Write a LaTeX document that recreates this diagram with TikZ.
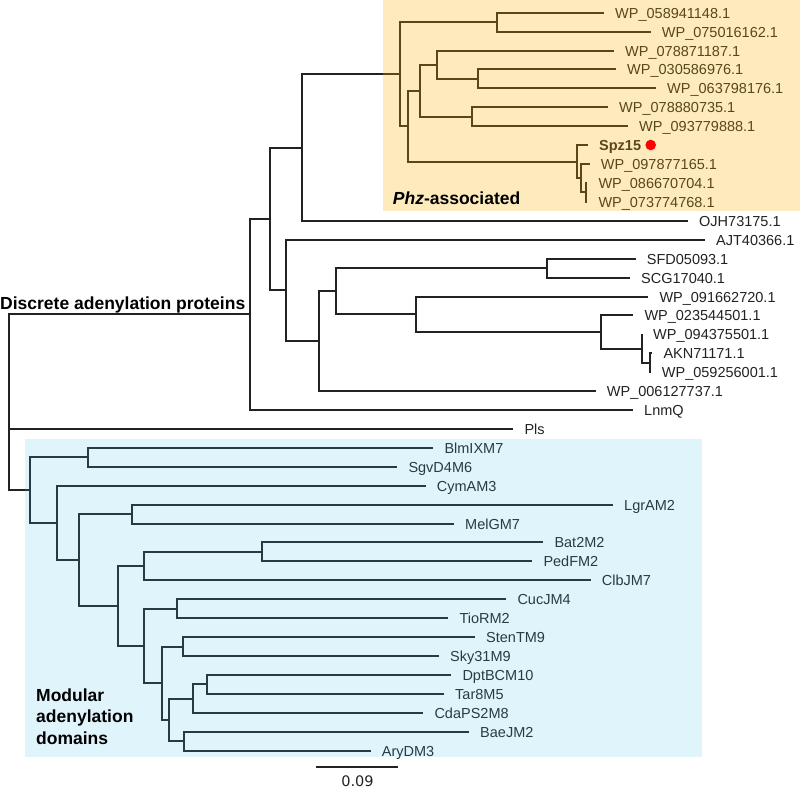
\documentclass[tikz,border=0pt]{standalone}
\usepackage{fontspec}
\setmainfont{Liberation Sans}
\newfontfamily\dejavu{DejaVu Sans}
\definecolor{ink}{RGB}{34,34,34}
\definecolor{ylwtint}{RGB}{247,178,0}
\definecolor{bluetint}{RGB}{67,188,236}
\newcommand\lf[4]{\coordinate (#1) at ({#2-11},#3);
  \node[lab] (#1-t) at ([xshift=11pt,yshift=-5.2pt]#1) {#4};}
\begin{document}
\begin{tikzpicture}[x=1pt,y=-1pt,
  br/.style={draw=ink,line width=1.5pt},
  lab/.style={anchor=base west,inner sep=0pt,text=ink,font=\fontsize{14.5}{17}\selectfont},
  grp/.style={anchor=base west,inner sep=0pt,text=black,font=\fontsize{17.5}{21}\selectfont\bfseries}]
\useasboundingbox (0,0) rectangle (800,790);
% leaves
\lf{L0}{615}{13}{WP\_058941148.1}
\lf{L1}{661.7}{32}{WP\_075016162.1}
\lf{L2}{625}{51}{WP\_078871187.1}
\lf{L3}{627}{69}{WP\_030586976.1}
\lf{L4}{667}{88}{WP\_063798176.1}
\lf{L5}{619}{107}{WP\_078880735.1}
\lf{L6}{639}{126}{WP\_093779888.1}
\lf{L7}{599}{145}{\textbf{Spz15}}
\lf{L8}{600.7}{164}{WP\_097877165.1}
\lf{L9}{598.3}{183}{WP\_086670704.1}
\lf{L10}{598.3}{202}{WP\_073774768.1}
\lf{L11}{699}{221}{OJH73175.1}
\lf{L12}{716}{240}{AJT40366.1}
\lf{L13}{646.7}{259}{SFD05093.1}
\lf{L14}{641}{278}{SCG17040.1}
\lf{L15}{659.3}{297}{WP\_091662720.1}
\lf{L16}{644.3}{315}{WP\_023544501.1}
\lf{L17}{653}{334}{WP\_094375501.1}
\lf{L18}{663.3}{353}{AKN71171.1}
\lf{L19}{661.7}{372}{WP\_059256001.1}
\lf{L20}{606.7}{391}{WP\_006127737.1}
\lf{L21}{644}{410}{LnmQ}
\lf{L22}{524.3}{429}{Pls}
\lf{L23}{444.3}{448}{BlmIXM7}
\lf{L24}{408.3}{467}{SgvD4M6}
\lf{L25}{436.7}{486}{CymAM3}
\lf{L26}{624}{505}{LgrAM2}
\lf{L27}{465}{524}{MelGM7}
\lf{L28}{554.3}{542}{Bat2M2}
\lf{L29}{543.3}{561}{PedFM2}
\lf{L30}{601.7}{580}{ClbJM7}
\lf{L31}{517.3}{599}{CucJM4}
\lf{L32}{459.3}{618}{TioRM2}
\lf{L33}{486}{637}{StenTM9}
\lf{L34}{450}{656}{Sky31M9}
\lf{L35}{462.3}{675}{DptBCM10}
\lf{L36}{455}{694}{Tar8M5}
\lf{L37}{434.3}{713}{CdaPS2M8}
\lf{L38}{480}{732}{BaeJM2}
\lf{L39}{381.7}{751}{AryDM3}
% internal nodes
\coordinate (r) at (9,429);
\coordinate (nD) at (250,314);
\coordinate (n270) at (270,219);
\coordinate (n302) at (302,148);
\coordinate (n400) at (400,74);
\coordinate (nA) at (497,22);
\coordinate (n408) at (408,126);
\coordinate (n420) at (420,91);
\coordinate (n437) at (437,65);
\coordinate (n478) at (478,79);
\coordinate (n472) at (472,117);
\coordinate (nS) at (577,162);
\coordinate (nT) at (581,178);
\coordinate (nU) at (586,192);
\coordinate (n286) at (286,290);
\coordinate (n319) at (319,341);
\coordinate (n336) at (336,291);
\coordinate (n547) at (547,268);
\coordinate (n416) at (416,314);
\coordinate (n601) at (601,332);
\coordinate (n642) at (642,349);
\coordinate (n650) at (650,363);
\coordinate (nM) at (30,490);
\coordinate (n88) at (88,457);
\coordinate (n57) at (57,523);
\coordinate (n79) at (79,560);
\coordinate (n132) at (132,514);
\coordinate (n118) at (118,606);
\coordinate (n144a) at (144,566);
\coordinate (n262) at (262,552);
\coordinate (n144b) at (144,646);
\coordinate (n177) at (177,609);
\coordinate (n162) at (162,683);
\coordinate (n183) at (183,647);
\coordinate (n169) at (169,720);
\coordinate (n193) at (193,699);
\coordinate (n207) at (207,684);
\coordinate (n184) at (184,741);
% branches
\draw[br] (r) |- (nD); \draw[br] (r) -- (L22); \draw[br] (r) |- (nM);
\draw[br] (nD) |- (n270); \draw[br] (nD) |- (L21);
\draw[br] (n270) |- (n302); \draw[br] (n270) |- (n286);
\draw[br] (n302) |- (n400); \draw[br] (n302) |- (L11);
\draw[br] (n400) |- (nA); \draw[br] (n400) |- (n408);
\draw[br] (nA) |- (L0); \draw[br] (nA) |- (L1);
\draw[br] (n408) |- (n420); \draw[br] (n408) |- (nS);
\draw[br] (n420) |- (n437); \draw[br] (n420) |- (n472);
\draw[br] (n437) |- (L2); \draw[br] (n437) |- (n478);
\draw[br] (n478) |- (L3); \draw[br] (n478) |- (L4);
\draw[br] (n472) |- (L5); \draw[br] (n472) |- (L6);
\draw[br] (nS) |- (L7); \draw[br] (nS) |- (nT);
\draw[br] (nT) |- (L8); \draw[br] (nT) |- (nU);
\draw[br] (nU) |- (L9); \draw[br] (nU) |- (L10);
\draw[br] (n286) |- (L12); \draw[br] (n286) |- (n319);
\draw[br] (n319) |- (n336); \draw[br] (n319) |- (L20);
\draw[br] (n336) |- (n547); \draw[br] (n336) |- (n416);
\draw[br] (n547) |- (L13); \draw[br] (n547) |- (L14);
\draw[br] (n416) |- (L15); \draw[br] (n416) |- (n601);
\draw[br] (n601) |- (L16); \draw[br] (n601) |- (n642);
\draw[br] (n642) |- (L17); \draw[br] (n642) |- (n650);
\draw[br] (n650) |- (L18); \draw[br] (n650) |- (L19);
\draw[br] (nM) |- (n88); \draw[br] (nM) |- (n57);
\draw[br] (n88) |- (L23); \draw[br] (n88) |- (L24);
\draw[br] (n57) |- (L25); \draw[br] (n57) |- (n79);
\draw[br] (n79) |- (n132); \draw[br] (n79) |- (n118);
\draw[br] (n132) |- (L26); \draw[br] (n132) |- (L27);
\draw[br] (n118) |- (n144a); \draw[br] (n118) |- (n144b);
\draw[br] (n144a) |- (n262); \draw[br] (n144a) |- (L30);
\draw[br] (n262) |- (L28); \draw[br] (n262) |- (L29);
\draw[br] (n144b) |- (n177); \draw[br] (n144b) |- (n162);
\draw[br] (n177) |- (L31); \draw[br] (n177) |- (L32);
\draw[br] (n162) |- (n183); \draw[br] (n162) |- (n169);
\draw[br] (n183) |- (L33); \draw[br] (n183) |- (L34);
\draw[br] (n169) |- (n193); \draw[br] (n169) |- (n184);
\draw[br] (n193) |- (n207); \draw[br] (n193) |- (L37);
\draw[br] (n207) |- (L35); \draw[br] (n207) |- (L36);
\draw[br] (n184) |- (L38); \draw[br] (n184) |- (L39);
% tinted group boxes
\fill[ylwtint,opacity=0.26] (383,0) rectangle (800,211);
\fill[bluetint,opacity=0.165] (25,439) rectangle (702,757);
% group labels
\node[grp] (gD) at (0,309.3) {Discrete adenylation proteins};
\node[grp] (gP) at (392.7,204) {\textit{Phz}-associated};
\node[grp] (gM1) at (36,701.7) {Modular};
\node[grp] (gM2) at (36,722.7) {adenylation};
\node[grp] (gM3) at (36,744) {domains};
\node[circle,fill=red,inner sep=0pt,minimum size=10.6pt] (dot) at (650.7,145) {};
% scale bar
\coordinate (sb1) at (316,767);
\coordinate (sb2) at (398,767);
\draw[ink,line width=1.5pt] (sb1) -- (sb2);
\node[anchor=base,inner sep=0pt,text=ink,font=\dejavu\fontsize{14.5}{17}\selectfont] (sbl) at (357.5,786.5) {0.09};
\end{tikzpicture}
\end{document}
